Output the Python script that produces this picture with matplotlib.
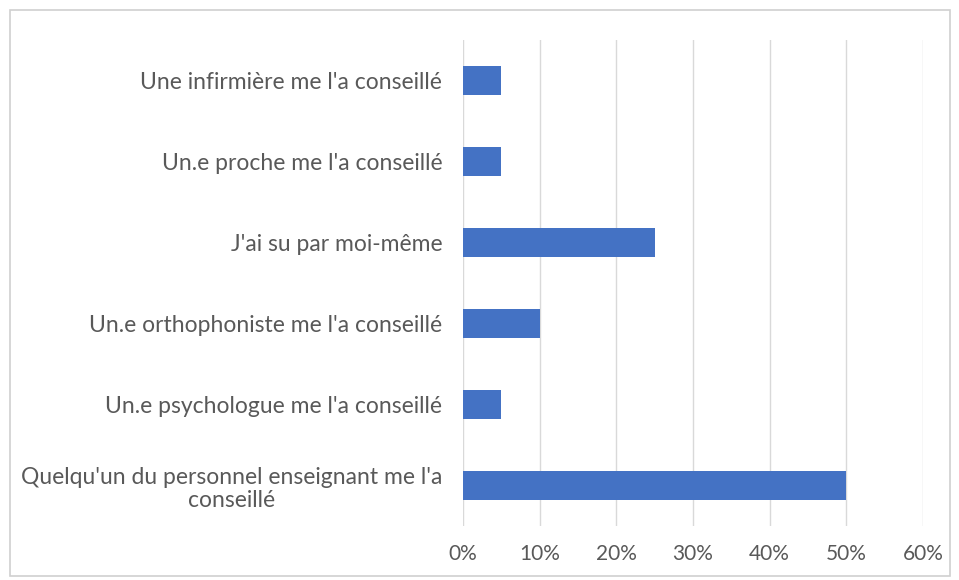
import matplotlib.pyplot as plt
from matplotlib.patches import Rectangle
from matplotlib.ticker import PercentFormatter

categories = [
    "Quelqu'un du personnel enseignant me l'a\nconseillé",
    "Un.e psychologue me l'a conseillé",
    "Un.e orthophoniste me l'a conseillé",
    "J'ai su par moi-même",
    "Un.e proche me l'a conseillé",
    "Une infirmière me l'a conseillé",
]
values = [50, 5, 10, 25, 5, 5]
ticks = [0, 10, 20, 30, 40, 50, 60]

plt.rcParams['font.family'] = ['Lato', 'DejaVu Sans']
text_color = '#595959'

fig = plt.figure(figsize=(9.59, 5.80), dpi=100)
ax = fig.add_axes([463 / 959, 1 - 526 / 580, (923 - 463) / 959, (526 - 40) / 580])

ypos = range(len(categories))
ax.barh(ypos, values, height=0.37, color='#4472C4', zorder=3)
ax.set_yticks(list(ypos))
ax.set_yticklabels(categories, fontsize=16.5, color=text_color,
                   ha='right', multialignment='center', linespacing=1.15)
ax.tick_params(axis='y', length=0, pad=15)
ax.set_ylim(-0.5, len(categories) - 0.5)

ax.set_xlim(0, 60)
ax.set_xticks(ticks)
ax.xaxis.set_major_formatter(PercentFormatter(decimals=0))
ax.tick_params(axis='x', length=0, pad=13, labelsize=15, labelcolor=text_color)
ax.grid(axis='x', color='#d9d9d9', linewidth=1, zorder=0)
for s in ax.spines.values():
    s.set_visible(False)

fig.patches.append(Rectangle((10 / 959, 1 - 576 / 580), 940 / 959, 566 / 580,
                             transform=fig.transFigure, fill=False,
                             edgecolor='#d0d0d0', linewidth=1.2))

fig.savefig('out.png', dpi=100)
